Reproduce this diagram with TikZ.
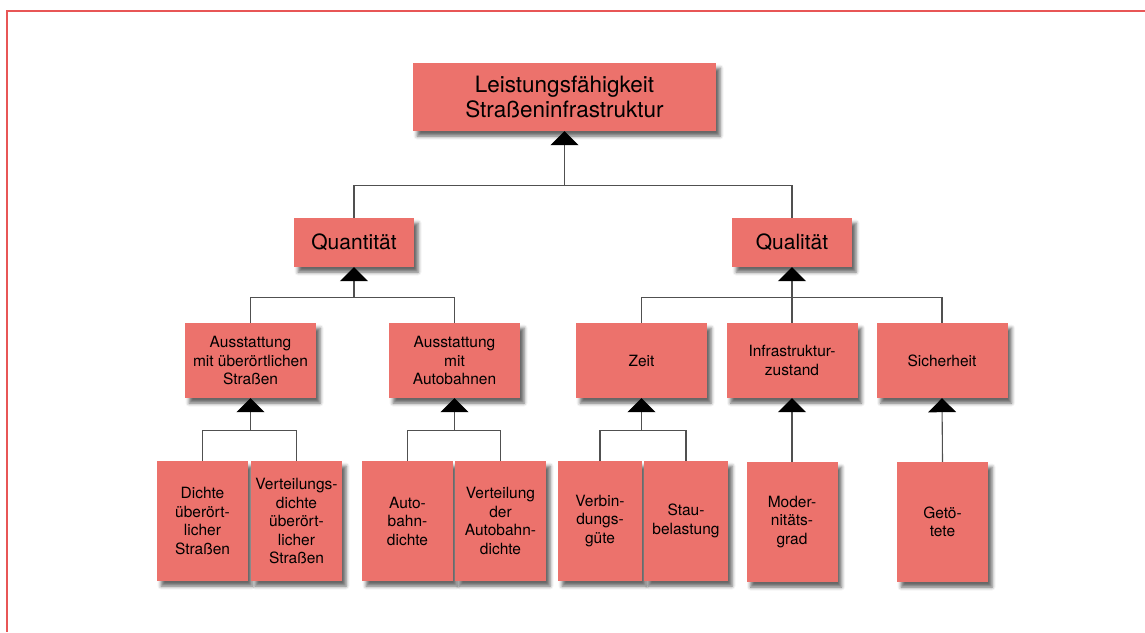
\documentclass[tikz,border=0pt]{standalone}
\usepackage{fontspec}
\setmainfont{TeX Gyre Heros}
\usetikzlibrary{arrows.meta,calc,positioning,shadows.blur}

\definecolor{boxred}{RGB}{236,114,108}
\definecolor{linegray}{RGB}{80,80,80}
\definecolor{framered}{RGB}{232,86,86}

\tikzset{
    goal/.style={fill=boxred,align=center,inner sep=0pt,text=black,
        blur shadow={shadow xshift=4pt,shadow yshift=-5pt,shadow blur radius=3.5pt,shadow opacity=60}},
    rootgoal/.style={goal,minimum width=303pt,minimum height=68pt,font=\fontsize{22.5}{25}\selectfont},
    maingoal/.style={goal,minimum width=120pt,minimum height=49pt,font=\fontsize{21}{25}\selectfont},
    subgoal/.style={goal,minimum width=131pt,minimum height=75pt,font=\fontsize{15.5}{18.5}\selectfont},
    indicator/.style={goal,minimum width=91pt,minimum height=120pt,font=\fontsize{15.5}{18.5}\selectfont},
    link/.style={draw=linegray,line width=1.1pt},
    uplink/.style={link,-{Triangle[width=28pt,length=14pt,color=black]}},
    frame/.style={draw=framered,line width=1.8pt}
}

\begin{document}
\begin{tikzpicture}[x=1pt,y=-1pt]
    \useasboundingbox (0,0) rectangle (1145,632);
    % Frame line on top and left
    \draw[frame] (1145,11) -- (7,11) -- (7,632);

    % Root and the two main goals
    \node[rootgoal] (root) at (564.5,97) {Leistungsfähigkeit\\Straßeninfrastruktur};
    \node[maingoal] (quant) at (354,242.5) {Quantität};
    \node[maingoal] (qual) at (792,242.5) {Qualität};

    % Sub goals
    \node[subgoal] (aus1) at (250.5,360.5) {Ausstattung\\mit überörtlichen\\Straßen};
    \node[subgoal] (aus2) at (454.5,360.5) {Ausstattung\\mit\\Autobahnen};
    \node[subgoal] (zeit) at (641.5,360.5) {Zeit};
    \node[subgoal] (infra) at (792,360.5) {Infrastruktur-\\zustand};
    \node[subgoal] (sich) at (942,360.5) {Sicherheit};

    % Indicators
    \node[indicator] (dichte) at (202.5,521) {Dichte\\überört-\\licher\\Straßen};
    \node[indicator] (vdichte) at (296.5,521) {Verteilungs-\\dichte\\überört-\\licher\\Straßen};
    \node[indicator] (adichte) at (407.5,521) {Auto-\\bahn-\\dichte};
    \node[indicator] (vadichte) at (500.5,521) {Verteilung\\der\\Autobahn-\\dichte};
    \node[indicator,minimum width=84pt] (verb) at (600,521) {Verbin-\\dungs-\\güte};
    \node[indicator,minimum width=84pt] (stau) at (686,521) {Stau-\\belastung};
    \node[indicator] (modern) at (792,522) {Moder-\\nitäts-\\grad};
    \node[indicator] (getoet) at (942.5,522) {Getö-\\tete};

    % Root level connectors
    \path (root.south) ++(0,54) coordinate (rootbar);
    \draw[link] (quant.north) |- (rootbar) -| (qual.north);
    \draw[uplink] (rootbar) -- (root.south);

    % Main goal connectors
    \path (quant.south) ++(0,30) coordinate (quantbar);
    \draw[link] (aus1.north) |- (quantbar) -| (aus2.north);
    \draw[uplink] (quantbar) -- (quant.south);
    \path (qual.south) ++(0,30) coordinate (qualbar);
    \draw[link] (zeit.north) |- (qualbar) -| (sich.north);
    \draw[uplink] (infra.north) -- (qual.south);

    % Indicator connectors, pairs first
    \foreach \mom/\ka/\kb in {aus1/dichte/vdichte,aus2/adichte/vadichte,zeit/verb/stau}
    {
        \path (\mom.south) ++(0,32) coordinate (\mom bar);
        \draw[link] (\ka.north) |- (\mom bar) -| (\kb.north);
        \draw[uplink] (\mom bar) -- (\mom.south);
    }
    \foreach \mom/\kid in {infra/modern,sich/getoet}
    {
        \draw[uplink] (\kid.north) -- (\mom.south);
    }
\end{tikzpicture}
\end{document}
